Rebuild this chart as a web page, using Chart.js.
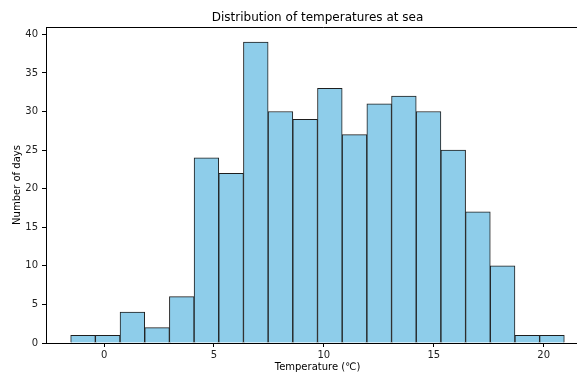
<!DOCTYPE html>
<html>
<head>
<meta charset="utf-8">
<script src="https://cdn.jsdelivr.net/npm/chart.js@4/dist/chart.umd.min.js"></script>
<style>
  html, body { margin: 0; padding: 0; background: #fff; overflow: hidden; }
  #wrap { position: absolute; left: 0; top: 0; width: 600px; height: 373px; }
</style>
</head>
<body>
<div id="wrap"><canvas id="hist" width="600" height="373"></canvas></div>
<script>
// histogram of daily sea temperatures (365 days, 20 bins)
var binStart = -1.52;
var binEnd = 20.94;
var counts = [1, 1, 4, 2, 6, 24, 22, 39, 30, 29, 33, 27, 31, 32, 30, 25, 17, 10, 1, 1];
var xTicks = [0, 5, 10, 15, 20];
var yTicks = [0, 5, 10, 15, 20, 25, 30, 35, 40];
var chartTitle = 'Distribution of temperatures at sea';

var binWidth = (binEnd - binStart) / counts.length;
var points = counts.map(function (c, i) {
  return { x: binStart + binWidth * (i + 0.5), y: c };
});
var margin = (binEnd - binStart) * 0.05;

// top spine (right one falls outside the window) + title centred over the axes
var frame = {
  id: 'frame',
  afterDraw: function (chart) {
    var a = chart.chartArea, ctx = chart.ctx;
    ctx.save();
    ctx.strokeStyle = '#000';
    ctx.lineWidth = 1;
    ctx.beginPath();
    ctx.moveTo(a.left, a.top + 0.5);
    ctx.lineTo(a.right + 20, a.top + 0.5);
    ctx.stroke();
    ctx.fillStyle = '#000';
    ctx.font = '12px "DejaVu Sans"';
    ctx.textAlign = 'center';
    ctx.textBaseline = 'alphabetic';
    ctx.fillText(chartTitle, (a.left + a.right) / 2, 20.5);
    ctx.restore();
  }
};

var ctx = document.getElementById('hist').getContext('2d');
var myChart = new Chart(ctx, {
  type: 'bar',
  data: {
    datasets: [{
      data: points,
      backgroundColor: '#8ecdea',
      borderColor: '#1e1e1e',
      borderWidth: 1,
      barPercentage: 1,
      categoryPercentage: 1
    }]
  },
  options: {
    responsive: false,
    animation: false,
    layout: { padding: { left: 0, right: 11, top: 27, bottom: 0 } },
    plugins: {
      legend: { display: false },
      tooltip: { enabled: false },
      title: { display: false }
    },
    scales: {
      x: {
        type: 'linear',
        offset: false,
        min: binStart - margin,
        max: binEnd + margin,
        afterBuildTicks: function (scale) {
          scale.ticks = xTicks.map(function (v) { return { value: v }; });
        },
        afterFit: function (scale) { scale.height = 30; },
        grid: { offset: false, drawOnChartArea: false, tickLength: 4, color: '#000' },
        border: { color: '#000' },
        ticks: {
          color: '#222', padding: 2, maxRotation: 0,
          font: { family: 'DejaVu Sans', size: 10 }
        },
        title: {
          display: true, text: 'Temperature (℃)', color: '#000',
          font: { family: 'DejaVu Sans', size: 10 },
          padding: { top: 0, bottom: 0 }
        }
      },
      y: {
        min: 0,
        max: 40.95,
        afterBuildTicks: function (scale) {
          scale.ticks = yTicks.map(function (v) { return { value: v }; });
        },
        afterFit: function (scale) { scale.width = 46; },
        grid: { drawOnChartArea: false, tickLength: 4, color: '#000' },
        border: { color: '#000' },
        ticks: {
          color: '#222', padding: 4,
          font: { family: 'DejaVu Sans', size: 10 }
        },
        title: {
          display: true, text: 'Number of days', color: '#000',
          font: { family: 'DejaVu Sans', size: 10 },
          padding: { top: 11, bottom: 0 }
        }
      }
    }
  },
  plugins: [frame]
});
</script>
</body>
</html>
